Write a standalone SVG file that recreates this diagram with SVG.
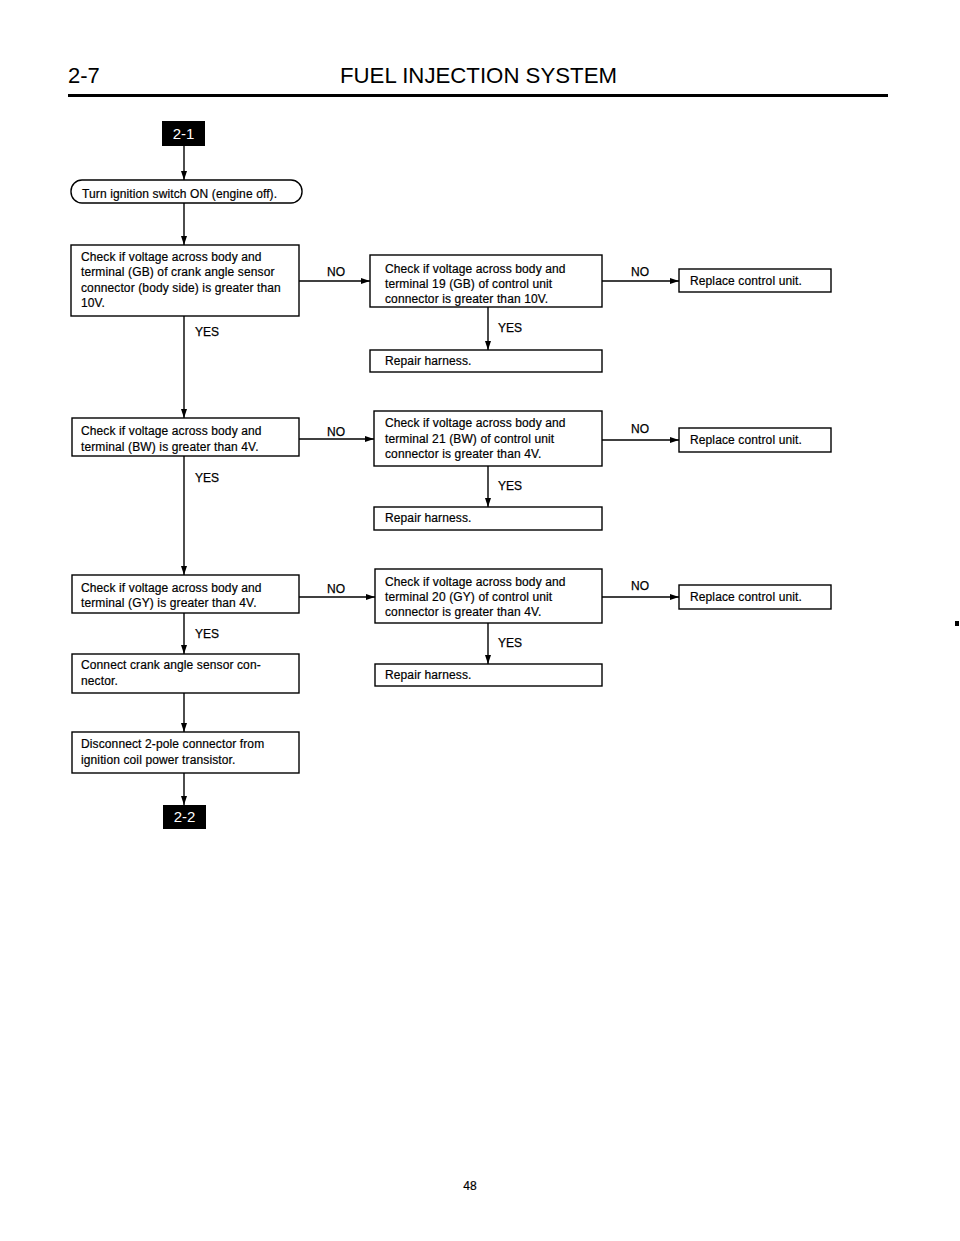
<svg xmlns="http://www.w3.org/2000/svg" width="960" height="1241" viewBox="0 0 960 1241">
<style>
.bx{fill:#fff;stroke:#000;stroke-width:1.4}
.t{font-family:"Liberation Sans",Arial,sans-serif;font-size:12px;letter-spacing:0.12px;fill:#000;stroke:#000;stroke-width:0.2}
.lb{font-family:"Liberation Sans",Arial,sans-serif;font-size:12px;fill:#000;stroke:#000;stroke-width:0.25}
.bd{fill:#000}
.bt{font-family:"Liberation Sans",Arial,sans-serif;font-size:15px;fill:#fff;text-anchor:middle}
.c{stroke:#000;stroke-width:1.4;fill:none}
.hd{font-family:"Liberation Sans",Arial,sans-serif;font-size:22px;fill:#000}
</style>
<defs>
<marker id="ah" markerUnits="userSpaceOnUse" markerWidth="10" markerHeight="8" refX="9" refY="3" orient="auto">
<path d="M0,0 L9,3 L0,6 Z" fill="#000"/>
</marker>
</defs>
<rect width="960" height="1241" fill="#fff"/>
<g id="header">
<text class="hd" x="68" y="83">2-7</text>
<text class="hd" x="340" y="83" textLength="277" lengthAdjust="spacingAndGlyphs">FUEL INJECTION SYSTEM</text>
<rect x="68" y="94" width="820" height="3" fill="#000"/>
</g>
<g id="connectors">
<line class="c" x1="184" y1="146" x2="184" y2="180" marker-end="url(#ah)"/>
<line class="c" x1="184" y1="203" x2="184" y2="245" marker-end="url(#ah)"/>
<line class="c" x1="184" y1="316" x2="184" y2="418" marker-end="url(#ah)"/>
<line class="c" x1="184" y1="456" x2="184" y2="575" marker-end="url(#ah)"/>
<line class="c" x1="184" y1="613" x2="184" y2="654" marker-end="url(#ah)"/>
<line class="c" x1="184" y1="693" x2="184" y2="732" marker-end="url(#ah)"/>
<line class="c" x1="184" y1="773" x2="184" y2="805" marker-end="url(#ah)"/>
<line class="c" x1="299" y1="281" x2="370" y2="281" marker-end="url(#ah)"/>
<line class="c" x1="299" y1="439" x2="374" y2="439" marker-end="url(#ah)"/>
<line class="c" x1="299" y1="597" x2="375" y2="597" marker-end="url(#ah)"/>
<line class="c" x1="602" y1="281" x2="679" y2="281" marker-end="url(#ah)"/>
<line class="c" x1="602" y1="440" x2="679" y2="440" marker-end="url(#ah)"/>
<line class="c" x1="602" y1="597" x2="679" y2="597" marker-end="url(#ah)"/>
<line class="c" x1="488" y1="307" x2="488" y2="350" marker-end="url(#ah)"/>
<line class="c" x1="488" y1="466" x2="488" y2="507" marker-end="url(#ah)"/>
<line class="c" x1="488" y1="623" x2="488" y2="664" marker-end="url(#ah)"/>
<text class="lb" x="195" y="336">YES</text>
<text class="lb" x="195" y="482">YES</text>
<text class="lb" x="195" y="638">YES</text>
<text class="lb" x="498" y="332">YES</text>
<text class="lb" x="498" y="490">YES</text>
<text class="lb" x="498" y="647">YES</text>
<text class="lb" x="336" y="276" text-anchor="middle">NO</text>
<text class="lb" x="336" y="436" text-anchor="middle">NO</text>
<text class="lb" x="336" y="593" text-anchor="middle">NO</text>
<text class="lb" x="640" y="276" text-anchor="middle">NO</text>
<text class="lb" x="640" y="433" text-anchor="middle">NO</text>
<text class="lb" x="640" y="590" text-anchor="middle">NO</text>
</g>
<g id="start">
<rect class="bd" x="162" y="121" width="43" height="25"/>
<text class="bt" x="183.5" y="139">2-1</text>
</g>
<g id="turn-on">
<rect class="bx" x="71" y="180" width="231" height="23" rx="11" ry="11"/>
<text class="t" x="82" y="198">Turn ignition switch ON (engine off).</text>
</g>
<g id="check-gb">
<rect class="bx" x="71" y="245" width="228" height="71"/>
<text class="t" x="81" y="261">Check if voltage across body and</text>
<text class="t" x="81" y="276">terminal (GB) of crank angle sensor</text>
<text class="t" x="81" y="292">connector (body side) is greater than</text>
<text class="t" x="81" y="307">10V.</text>
</g>
<g id="check-19">
<rect class="bx" x="370" y="255" width="232" height="52"/>
<text class="t" x="385" y="273">Check if voltage across body and</text>
<text class="t" x="385" y="288">terminal 19 (GB) of control unit</text>
<text class="t" x="385" y="303">connector is greater than 10V.</text>
</g>
<g id="replace-1">
<rect class="bx" x="679" y="269" width="152" height="23"/>
<text class="t" x="690" y="285">Replace control unit.</text>
</g>
<g id="repair-1">
<rect class="bx" x="370" y="350" width="232" height="22"/>
<text class="t" x="385" y="365">Repair harness.</text>
</g>
<g id="check-bw">
<rect class="bx" x="72" y="418" width="227" height="38"/>
<text class="t" x="81" y="435">Check if voltage across body and</text>
<text class="t" x="81" y="451">terminal (BW) is greater than 4V.</text>
</g>
<g id="check-21">
<rect class="bx" x="374" y="411" width="228" height="55"/>
<text class="t" x="385" y="427">Check if voltage across body and</text>
<text class="t" x="385" y="443">terminal 21 (BW) of control unit</text>
<text class="t" x="385" y="458">connector is greater than 4V.</text>
</g>
<g id="replace-2">
<rect class="bx" x="679" y="428" width="152" height="24"/>
<text class="t" x="690" y="444">Replace control unit.</text>
</g>
<g id="repair-2">
<rect class="bx" x="374" y="507" width="228" height="23"/>
<text class="t" x="385" y="522">Repair harness.</text>
</g>
<g id="check-gy">
<rect class="bx" x="72" y="575" width="227" height="38"/>
<text class="t" x="81" y="592">Check if voltage across body and</text>
<text class="t" x="81" y="607">terminal (GY) is greater than 4V.</text>
</g>
<g id="check-20">
<rect class="bx" x="375" y="569" width="227" height="54"/>
<text class="t" x="385" y="586">Check if voltage across body and</text>
<text class="t" x="385" y="601">terminal 20 (GY) of control unit</text>
<text class="t" x="385" y="616">connector is greater than 4V.</text>
</g>
<g id="replace-3">
<rect class="bx" x="679" y="585" width="152" height="24"/>
<text class="t" x="690" y="601">Replace control unit.</text>
</g>
<g id="repair-3">
<rect class="bx" x="375" y="664" width="227" height="22"/>
<text class="t" x="385" y="679">Repair harness.</text>
</g>
<g id="connect-cas">
<rect class="bx" x="72" y="654" width="227" height="39"/>
<text class="t" x="81" y="669">Connect crank angle sensor con-</text>
<text class="t" x="81" y="685">nector.</text>
</g>
<g id="disconnect">
<rect class="bx" x="72" y="732" width="227" height="41"/>
<text class="t" x="81" y="748">Disconnect 2-pole connector from</text>
<text class="t" x="81" y="764">ignition coil power transistor.</text>
</g>
<g id="end">
<rect class="bd" x="163" y="805" width="43" height="24"/>
<text class="bt" x="184.5" y="822">2-2</text>
</g>
<g id="footer">
<text class="t" x="470" y="1190" text-anchor="middle" font-size="13">48</text>
<rect x="955" y="621" width="4" height="5" fill="#000"/>
</g>
</svg>
